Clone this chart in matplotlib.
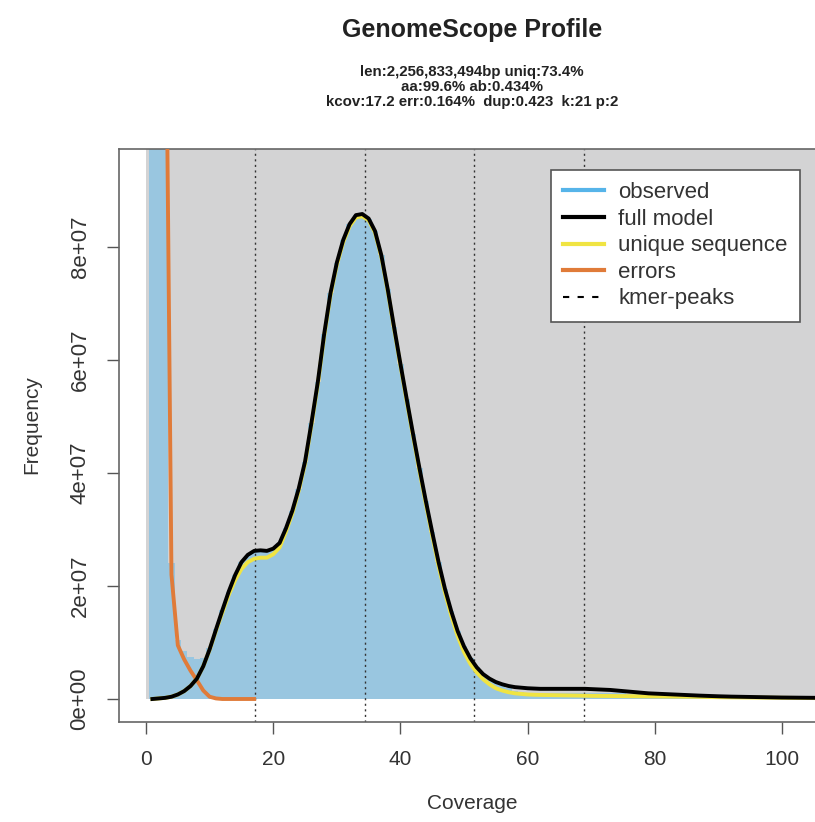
import numpy as np
import matplotlib
matplotlib.use('Agg')
import matplotlib.pyplot as plt
from matplotlib.ticker import FuncFormatter
from matplotlib.lines import Line2D

plt.rcParams['font.family'] = ['Liberation Sans', 'DejaVu Sans']

SCALE = 1e7

# k-mer coverage bins 1..105
coverage = np.arange(1, 106)

# observed k-mer histogram (x 1e7)
observed = [
    300.0, 40.0, 14.0, 2.40, 1.05, 0.85, 0.74, 0.70, 0.72, 0.90,
    1.23, 1.57, 1.90, 2.19, 2.42, 2.55, 2.62, 2.63, 2.62, 2.66,
    2.76, 3.02, 3.33, 3.72, 4.20, 4.88, 5.60, 6.45, 7.18, 7.72,
    8.12, 8.40, 8.56, 8.58, 8.50, 8.28, 7.85, 7.25, 6.58, 5.93,
    5.30, 4.68, 4.08, 3.50, 2.95, 2.42, 1.95, 1.55, 1.20, 0.93,
    0.72, 0.56, 0.44, 0.36, 0.30, 0.26, 0.20, 0.15, 0.12, 0.11,
    0.10, 0.10, 0.10, 0.10, 0.10, 0.10, 0.10, 0.10, 0.10, 0.10,
    0.10, 0.10, 0.10, 0.10, 0.10, 0.09, 0.09, 0.08, 0.08, 0.07,
    0.07, 0.06, 0.06, 0.05, 0.05, 0.05, 0.04, 0.04, 0.04, 0.03,
    0.03, 0.03, 0.03, 0.03, 0.02, 0.02, 0.02, 0.02, 0.02, 0.02,
    0.02, 0.02, 0.02, 0.02, 0.02,
]

# full model fit (x 1e7)
full_model = [
    0.00, 0.01, 0.02, 0.04, 0.08, 0.14, 0.23, 0.36, 0.58, 0.88,
    1.23, 1.57, 1.90, 2.19, 2.42, 2.55, 2.62, 2.63, 2.62, 2.66,
    2.76, 3.02, 3.33, 3.72, 4.20, 4.88, 5.60, 6.45, 7.18, 7.72,
    8.12, 8.40, 8.56, 8.58, 8.50, 8.28, 7.85, 7.25, 6.58, 5.93,
    5.30, 4.68, 4.08, 3.50, 2.95, 2.42, 1.95, 1.55, 1.20, 0.93,
    0.72, 0.56, 0.44, 0.36, 0.30, 0.26, 0.23, 0.21, 0.20, 0.19,
    0.185, 0.18, 0.18, 0.18, 0.18, 0.18, 0.18, 0.18, 0.18, 0.175,
    0.17, 0.165, 0.16, 0.15, 0.14, 0.13, 0.12, 0.11, 0.10, 0.095,
    0.09, 0.085, 0.08, 0.075, 0.07, 0.065, 0.06, 0.056, 0.052, 0.048,
    0.045, 0.042, 0.04, 0.038, 0.036, 0.034, 0.032, 0.03, 0.028, 0.026,
    0.025, 0.024, 0.023, 0.022, 0.021,
]

# unique sequence component (x 1e7)
unique_seq = [
    0.00, 0.01, 0.02, 0.04, 0.08, 0.14, 0.23, 0.36, 0.58, 0.87,
    1.21, 1.53, 1.84, 2.10, 2.30, 2.42, 2.48, 2.50, 2.50, 2.56,
    2.68, 2.96, 3.28, 3.68, 4.16, 4.84, 5.56, 6.41, 7.14, 7.68,
    8.08, 8.36, 8.52, 8.54, 8.47, 8.25, 7.82, 7.22, 6.55, 5.90,
    5.26, 4.64, 4.03, 3.45, 2.89, 2.35, 1.88, 1.47, 1.11, 0.83,
    0.62, 0.47, 0.35, 0.26, 0.19, 0.15, 0.12, 0.10, 0.09, 0.08,
    0.075, 0.072, 0.07, 0.068, 0.066, 0.064, 0.062, 0.06, 0.058, 0.056,
    0.055, 0.054, 0.053, 0.052, 0.051, 0.05, 0.049, 0.048, 0.047, 0.046,
    0.045, 0.044, 0.043, 0.042, 0.041, 0.04, 0.038, 0.036, 0.034, 0.032,
    0.03, 0.029, 0.028, 0.027, 0.026, 0.025, 0.024, 0.023, 0.022, 0.021,
    0.02, 0.019, 0.018, 0.017, 0.016,
]

# error k-mers, drawn up to the first peak (x 1e7)
error_cov = np.arange(1, 18)
errors = [300.0, 40.0, 14.0, 2.20, 0.95, 0.70, 0.50, 0.33, 0.15, 0.04,
          0.01, 0.0, 0.0, 0.0, 0.0, 0.0, 0.0]

kcov = 17.2
kmer_peaks = [kcov * i for i in (1, 2, 3, 4)]

title = "GenomeScope Profile"
subtitle_lines = ["len:2,256,833,494bp uniq:73.4%",
                  "aa:99.6% ab:0.434%",
                  "kcov:17.2 err:0.164%  dup:0.423  k:21 p:2"]

C_BG = '#d3d3d4'
C_HIST = '#99c6e0'
C_MODEL = 'black'
C_UNIQUE = '#f0e442'
C_ERR = '#e07b39'

W, H = 815, 822
fig = plt.figure(figsize=(W / 100, H / 100), dpi=100)
ax = fig.add_axes([119 / W, 1 - 722 / H, (824 - 119) / W, (722 - 149) / H])

xlim = (-4.25, 106.6)
ylim = (-0.407 * SCALE, 9.73 * SCALE)

# grey panel
ax.fill_between([0, 200], 0, 20 * SCALE, color=C_BG, linewidth=0, zorder=0)

obs = np.array(observed) * SCALE
ax.bar(coverage, obs, width=1.0, color=C_HIST, linewidth=0, zorder=1)

for p in kmer_peaks:
    ax.axvline(p, color='#333333', linestyle=(0, (1.5, 2.5)), linewidth=1.0, zorder=2)

ax.plot(error_cov, np.array(errors) * SCALE, color=C_ERR, linewidth=2.8, zorder=3)
ax.plot(coverage, np.array(unique_seq) * SCALE, color=C_UNIQUE, linewidth=2.8, zorder=4)
ax.plot(coverage, np.array(full_model) * SCALE, color=C_MODEL, linewidth=2.8, zorder=5)

ax.set_xlim(xlim)
ax.set_ylim(ylim)

ax.set_xticks([0, 20, 40, 60, 80, 100])
ax.set_yticks(np.arange(0, 9, 2) * SCALE)
ax.yaxis.set_major_formatter(FuncFormatter(lambda v, pos: f"{v:.0e}"))
ax.tick_params(axis='both', direction='out', length=8.5, width=1, colors='#555555',
               labelcolor='#333333')
ax.tick_params(axis='x', pad=11.5, labelsize=15)
ax.tick_params(axis='y', pad=12, labelsize=16)
for lab in ax.get_yticklabels():
    lab.set_rotation(90)
    lab.set_va('center')

for s in ax.spines.values():
    s.set_color('#666666')
    s.set_linewidth(1.2)

fig.text(472 / W, 1 - 803 / H, "Coverage", ha='center', va='center',
         fontsize=15, color='#333333')
fig.text(32 / W, 1 - 425 / H, "Frequency", ha='center', va='center',
         rotation=90, fontsize=15, color='#333333')

fig.text(472 / W, 1 - 30 / H, title, ha='center', va='center',
         fontsize=18, fontweight='bold', color='#222222')
for i, line in enumerate(subtitle_lines):
    fig.text(472 / W, 1 - (72 + 14.8 * i) / H, line, ha='center', va='center',
             fontsize=10.8, fontweight='bold', color='#222222')

handles = [
    Line2D([], [], color='#56b4e9', linewidth=3),
    Line2D([], [], color=C_MODEL, linewidth=3),
    Line2D([], [], color=C_UNIQUE, linewidth=3),
    Line2D([], [], color=C_ERR, linewidth=3),
    Line2D([], [], color='black', linewidth=1.5, linestyle=(0, (3, 4))),
]
labels = ["observed", "full model", "unique sequence", "errors", "kmer-peaks"]
leg = ax.legend(handles, labels, loc='upper right',
                bbox_to_anchor=(800 / W, 1 - 170 / H), bbox_transform=fig.transFigure,
                borderaxespad=0, fancybox=False, framealpha=1, fontsize=16,
                handlelength=1.85, labelspacing=0.25, borderpad=0.55,
                handletextpad=0.65)
leg.get_frame().set_edgecolor('#555555')
leg.get_frame().set_linewidth(1.2)
for t in leg.get_texts():
    t.set_color('#333333')

fig.savefig('out.png', dpi=100)
